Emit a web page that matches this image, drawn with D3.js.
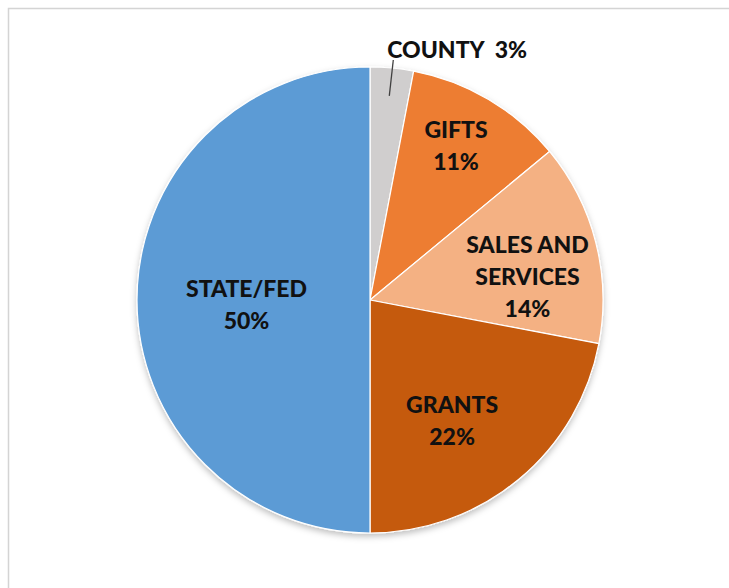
<!DOCTYPE html>
<html><head><meta charset="utf-8">
<script src="https://cdn.jsdelivr.net/npm/d3@7/dist/d3.min.js"></script>
<style>html,body{margin:0;padding:0;background:#fff;}svg{display:block;}</style>
</head><body>
<script>
const categories = ["COUNTY", "GIFTS", "SALES AND SERVICES", "GRANTS", "STATE/FED"];
const values = [3, 11, 14, 22, 50];
const labelLines = [["COUNTY  3%"], ["GIFTS", "11%"], ["SALES AND", "SERVICES", "14%"], ["GRANTS", "22%"], ["STATE/FED", "50%"]];
const colors = ["#D0CECE", "#ED7D31", "#F4B183", "#C55A11", "#5B9BD5"];

const W = 729, H = 588;
const cx = 370, cy = 300, R = 233;
// label placement: radius fraction of R and pixel nudges
const labelRadius = [1.0, 0.7, 0.68, 0.62, 0.53];
const labelNudge = [[0, 0], [3, -14], [4, 16], [-10, 10], [0, 5]];

const svg = d3.select("body").append("svg").attr("width", W).attr("height", H);
const defs = svg.append("defs");
const f = defs.append("filter").attr("id", "sh").attr("x", "-20%").attr("y", "-20%").attr("width", "140%").attr("height", "140%");
f.append("feDropShadow").attr("dx", 0).attr("dy", 3).attr("stdDeviation", 3).attr("flood-color", "#000").attr("flood-opacity", 0.25);

svg.append("rect").attr("x", 8.5).attr("y", 8.5).attr("width", W).attr("height", H)
  .attr("fill", "#fff").attr("stroke", "#d4d4d4").attr("stroke-width", 1.5);

const pie = d3.pie().sort(null).value(d => d);
const arcs = pie(values);
const arc = d3.arc().innerRadius(0).outerRadius(R);

const g = svg.append("g").attr("transform", `translate(${cx},${cy})`);
g.append("g").attr("filter", "url(#sh)").selectAll("path").data(arcs).join("path")
  .attr("d", arc).attr("fill", (d, i) => colors[i])
  .attr("stroke", "#fff").attr("stroke-width", 1.2).attr("stroke-linejoin", "round");

const font = "Lato, 'Open Sans', sans-serif";
const fs = 23;
const lineH = 32;
arcs.forEach((d, i) => {
  if (i === 0) return;
  const a = (d.startAngle + d.endAngle) / 2;
  const r = R * labelRadius[i];
  const x = Math.sin(a) * r + labelNudge[i][0];
  const y = -Math.cos(a) * r + labelNudge[i][1];
  const lines = labelLines[i];
  const t = g.append("text").attr("text-anchor", "middle")
    .attr("font-family", font).attr("font-weight", 900).attr("font-size", fs).attr("fill", "#111");
  lines.forEach((s, k) => {
    t.append("tspan").attr("x", x).attr("y", y + (k - (lines.length - 1) / 2) * lineH + 8).text(s);
  });
});

// COUNTY outside label with leader line
const c0 = arcs[0];
const a0 = (c0.startAngle + c0.endAngle) / 2;
const inner = [Math.sin(a0) * (R - 28), -Math.cos(a0) * (R - 28)];
const outer = [inner[0] + 4, -R - 7];
g.append("line").attr("x1", inner[0]).attr("y1", inner[1]).attr("x2", outer[0]).attr("y2", outer[1])
  .attr("stroke", "#404040").attr("stroke-width", 1.3);
g.append("text").attr("x", outer[0] - 6).attr("y", -R - 9).attr("text-anchor", "start")
  .attr("font-family", font).attr("font-weight", 900).attr("font-size", fs).attr("fill", "#111")
  .attr("xml:space", "preserve").style("white-space", "pre").text(labelLines[0][0]);
</script>
</body></html>
